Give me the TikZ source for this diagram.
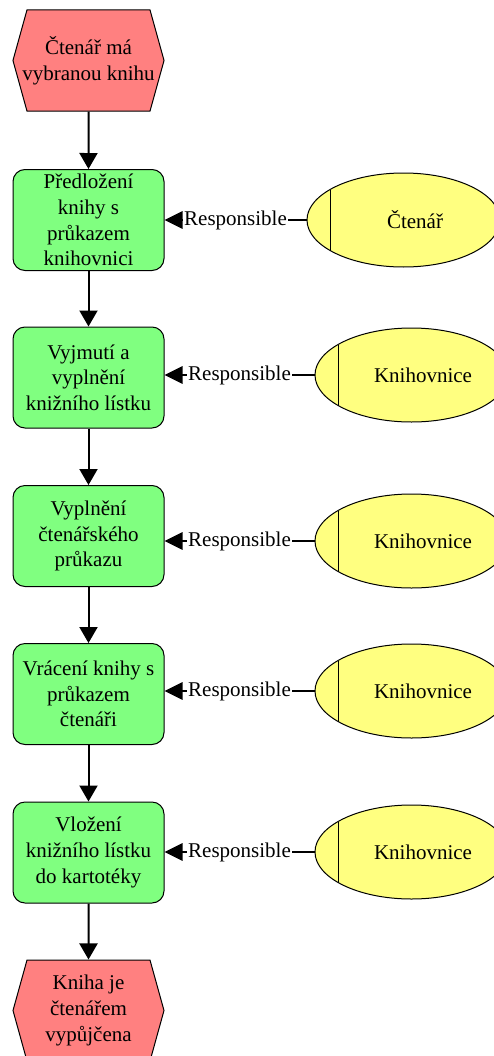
\documentclass[tikz,border=0pt]{standalone}
\usepackage{fontspec}
\setmainfont{Liberation Serif}
\usetikzlibrary{shapes.geometric,shapes.symbols,arrows.meta}

\tikzset{every picture/.style={line width=0.75pt}}
\tikzset{
  txt/.style={font=\fontsize{15.75}{19.2}\selectfont},
  evt/.style={txt, signal, signal to=east and west, signal pointer angle=149, draw,
    fill={rgb, 255:red, 255; green, 128; blue, 128 }, minimum width=113.25pt,
    minimum height=75.75pt, inner ysep=0pt, inner xsep=-3.5pt, align=center},
  fn/.style={txt, rectangle, rounded corners=9pt, draw,
    fill={rgb, 255:red, 128; green, 255; blue, 128 }, minimum width=113.25pt,
    minimum height=75.75pt, inner sep=0pt, align=center},
  org/.style={ellipse, draw, fill={rgb, 255:red, 255; green, 255; blue, 128 },
    minimum width=144.75pt, minimum height=70.5pt, inner sep=0pt},
  flow/.style={line width=1.5pt, -{Triangle[width=13.5pt,length=12pt]}},
  resp/.style={line width=1.5pt, -{Triangle[width=13pt,length=13.5pt]}},
  lbl/.style={txt, fill=white, inner sep=1pt}
}

\begin{document}
\begin{tikzpicture}[x=0.75pt,y=0.75pt,yscale=-1,xscale=1]
  \useasboundingbox (0,0) rectangle (493,1056);

  %Events
  \node[evt] (ev1) at (88.5,60.5) {Čtenář má\\vybranou knihu};
  \node[evt] (ev2) at (88.5,1010.5) {Kniha je\\čtenářem\\vypůjčena};

  %Functions
  \node[fn] (f1) at (88.5,220) {Předložení\\knihy s\\průkazem\\knihovnici};
  \node[fn] (f2) at (88.5,377.5) {Vyjmutí a\\vyplnění\\knižního lístku};
  \node[fn] (f3) at (88.5,536) {Vyplnění\\čtenářského\\průkazu};
  \node[fn] (f4) at (88.5,694) {Vrácení knihy s\\průkazem\\čtenáři};
  \node[fn] (f5) at (88.5,852.5) {Vložení\\knižního lístku\\do kartotéky};

  %Organisation units
  \node[org] (e1) at (403.5,220) {};
  \node[org] (e2) at (411.5,375) {};
  \node[org] (e3) at (411.5,541) {};
  \node[org] (e4) at (411.5,691) {};
  \node[org] (e5) at (411.5,852) {};
  \foreach \e/\name in {e1/Čtenář,e2/Knihovnice,e3/Knihovnice,e4/Knihovnice,e5/Knihovnice} {
    \draw (\e.center) ++(-73.5,-30.5) -- ++(0,61);
    \path (\e.center) ++(11.5,0) node[txt] (t\e) {\name};
  }

  %Control flow
  \draw[flow] (ev1) -- (f1);
  \draw[flow] (f1) -- (f2);
  \draw[flow] (f2) -- (f3);
  \draw[flow] (f3) -- (f4);
  \draw[flow] (f4) -- (f5);
  \draw[flow] (f5) -- (ev2);

  %Responsible
  \foreach \i in {1,...,5} {
    \draw[resp] (e\i.west) -- (e\i.west -| f\i.east) node[lbl, midway] (r\i) {Responsible};
  }
\end{tikzpicture}
\end{document}
